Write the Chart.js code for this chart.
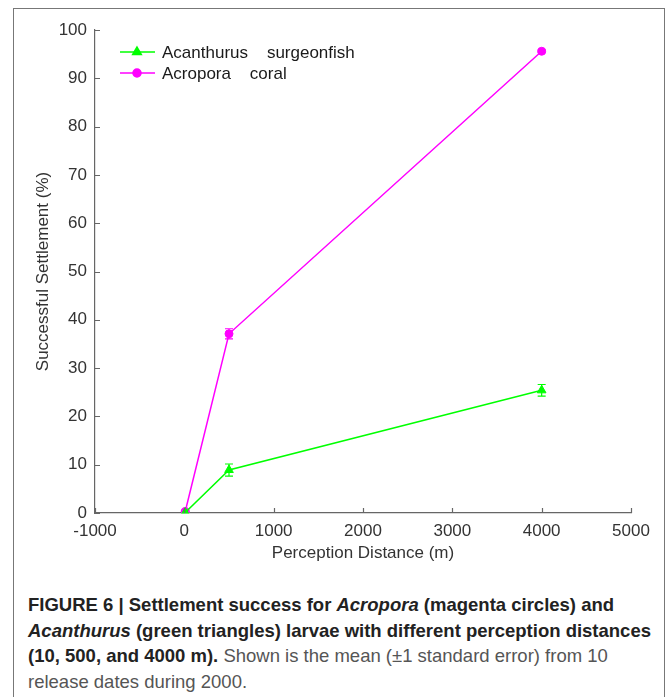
<!DOCTYPE html>
<html>
<head>
<meta charset="utf-8">
<script src="https://cdn.jsdelivr.net/npm/chart.js@4.4.1/dist/chart.umd.min.js"></script>
<style>
  html, body { margin: 0; padding: 0; background: #fff; overflow: hidden; }
  body { width: 669px; height: 697px; position: relative; }
  #frame { position: absolute; left: 13px; top: 8px; width: 652px; height: 720px; border: 1.5px solid #777; box-sizing: border-box; }
  #wrap { position: absolute; left: 0; top: 0; width: 669px; height: 575px; }
  #caption { position: absolute; left: 28px; top: 592px; font-family: "Liberation Sans", Arial, sans-serif;
             font-size: 18.5px; line-height: 25.5px; color: #555; white-space: nowrap; }
  #caption b { color: #222; }
</style>
</head>
<body>
<div id="frame"></div>
<div id="wrap"><canvas id="chart"></canvas></div>
<div id="caption"><b>FIGURE 6 | Settlement success for <i>Acropora</i> (magenta circles) and<br><i>Acanthurus</i> (green triangles) larvae with different perception distances<br>(10, 500, and 4000 m).</b> Shown is the mean (±1 standard error) from 10<br>release dates during 2000.</div>
<script>
// perception distances (m)
const distances = [10, 500, 4000];

// settlement success (%), mean and standard error
const acanthurusMean = [0.1, 8.9, 25.4];
const acanthurusSE = [0.2, 1.25, 1.2];
const acroporaMean = [0.3, 37.1, 95.6];
const acroporaSE = [0.2, 1.05, 0.3];

const seriesNames = ['Acanthurus    surgeonfish', 'Acropora    coral'];

const xTicks = [-1000, 0, 1000, 2000, 3000, 4000, 5000];
const yTicks = [0, 10, 20, 30, 40, 50, 60, 70, 80, 90, 100];

const GREEN = '#00ff00';
const MAGENTA = '#ff00ff';
const FONT = '"Liberation Sans", Arial, sans-serif';

function toPoints(xs, ys) {
    return xs.map((x, i) => ({ x: x, y: ys[i] }));
}

// error bars, inward ticks and the in-plot legend
const extras = {
    id: 'extras',
    beforeDatasetsDraw(chart) {
        const ctx = chart.ctx;
        const xs = chart.scales.x, ys = chart.scales.y;
        const sets = [[acanthurusMean, acanthurusSE, GREEN], [acroporaMean, acroporaSE, MAGENTA]];
        ctx.save();
        ctx.lineWidth = 1.2;
        sets.forEach(([mean, se, color]) => {
            ctx.strokeStyle = color;
            distances.forEach((d, i) => {
                const px = xs.getPixelForValue(d);
                const top = ys.getPixelForValue(mean[i] + se[i]);
                const bot = ys.getPixelForValue(Math.max(0, mean[i] - se[i]));
                ctx.beginPath();
                ctx.moveTo(px, top); ctx.lineTo(px, bot);
                ctx.moveTo(px - 4, top); ctx.lineTo(px + 4, top);
                ctx.moveTo(px - 4, bot); ctx.lineTo(px + 4, bot);
                ctx.stroke();
            });
        });
        ctx.restore();
    },
    afterDraw(chart) {
        const ctx = chart.ctx;
        const xs = chart.scales.x, ys = chart.scales.y;
        const area = chart.chartArea;
        ctx.save();
        ctx.strokeStyle = '#666';
        ctx.lineWidth = 1.2;
        ctx.beginPath();
        yTicks.forEach(v => {
            const py = Math.round(ys.getPixelForValue(v)) + 0.5;
            ctx.moveTo(area.left, py); ctx.lineTo(area.left + 5, py);
        });
        xTicks.forEach(v => {
            const px = Math.round(xs.getPixelForValue(v)) + 0.5;
            ctx.moveTo(px, area.bottom); ctx.lineTo(px, area.bottom - 5);
        });
        ctx.stroke();

        // legend
        const colors = [GREEN, MAGENTA];
        const styles = ['triangle', 'circle'];
        ctx.font = '17px ' + FONT;
        ctx.textBaseline = 'middle';
        seriesNames.forEach((name, i) => {
            const y = 52 + i * 21;
            ctx.strokeStyle = colors[i];
            ctx.lineWidth = 1.5;
            ctx.beginPath();
            ctx.moveTo(120, y); ctx.lineTo(155, y);
            ctx.stroke();
            ctx.fillStyle = colors[i];
            Chart.helpers.drawPoint(ctx, { pointStyle: styles[i], radius: i === 0 ? 5 : 4, borderWidth: 1 }, 137, y);
            ctx.fillStyle = '#1a1a1a';
            ctx.fillText(name, 162, y + 1);
        });
        ctx.restore();
    }
};

new Chart(document.getElementById('chart'), {
    type: 'scatter',
    data: {
        datasets: [
            {
                label: seriesNames[0],
                data: toPoints(distances, acanthurusMean),
                showLine: true,
                borderColor: GREEN,
                backgroundColor: GREEN,
                borderWidth: 1.5,
                pointStyle: 'triangle',
                pointRadius: 5,
                pointBorderWidth: 1
            },
            {
                label: seriesNames[1],
                data: toPoints(distances, acroporaMean),
                showLine: true,
                borderColor: MAGENTA,
                backgroundColor: MAGENTA,
                borderWidth: 1.5,
                pointStyle: 'circle',
                pointRadius: 4,
                pointBorderWidth: 1
            }
        ]
    },
    options: {
        responsive: true,
        maintainAspectRatio: false,
        animation: false,
        layout: { padding: { left: 0, top: 30, right: 38, bottom: 0 } },
        plugins: { legend: { display: false }, tooltip: { enabled: false } },
        scales: {
            x: {
                type: 'linear',
                min: -1000,
                max: 5000,
                afterBuildTicks: s => { s.ticks = xTicks.map(v => ({ value: v })); },
                afterFit: s => { s.height = 62; },
                grid: { display: true, drawOnChartArea: false, drawTicks: false },
                border: { display: true, color: '#666', width: 1.2 },
                ticks: { color: '#333', padding: 8, maxRotation: 0, font: { family: FONT, size: 17 },
                         callback: v => String(v) },
                title: { display: true, text: 'Perception Distance (m)', color: '#333',
                         font: { family: FONT, size: 17 }, padding: { top: 0, bottom: 11 } }
            },
            y: {
                type: 'linear',
                min: 0,
                max: 100,
                afterBuildTicks: s => { s.ticks = yTicks.map(v => ({ value: v })); },
                afterFit: s => { s.width = 95; },
                grid: { display: true, drawOnChartArea: false, drawTicks: false },
                border: { display: true, color: '#666', width: 1.2 },
                ticks: { color: '#333', padding: 8, font: { family: FONT, size: 17 },
                         callback: v => String(v) },
                title: { display: true, text: 'Successful Settlement (%)', color: '#333',
                         font: { family: FONT, size: 17 }, padding: { top: 33, bottom: 0 } }
            }
        }
    },
    plugins: [extras]
});
</script>
</body>
</html>
